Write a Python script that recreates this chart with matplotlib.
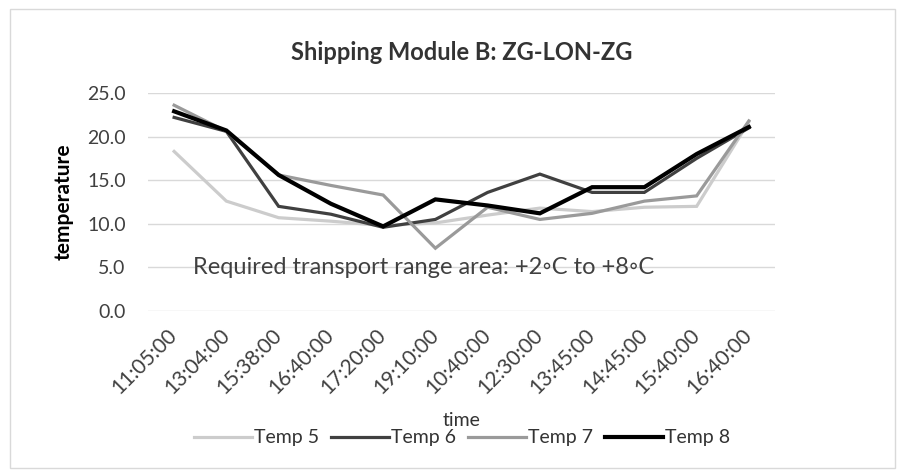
import numpy as np
import matplotlib.pyplot as plt
from matplotlib.patches import Rectangle

# logger readings per sensor
times = ["11:05:00", "13:04:00", "15:38:00", "16:40:00", "17:20:00", "19:10:00",
         "10:40:00", "12:30:00", "13:45:00", "14:45:00", "15:40:00", "16:40:00"]
temp5 = [18.3, 12.6, 10.7, 10.3, 9.8, 10.1, 11.0, 11.8, 11.4, 11.9, 12.0, 21.7]
temp6 = [22.2, 20.6, 12.0, 11.1, 9.6, 10.5, 13.6, 15.7, 13.6, 13.6, 17.5, 21.0]
temp7 = [23.6, 20.6, 15.6, 14.4, 13.3, 7.2, 11.9, 10.5, 11.2, 12.6, 13.2, 21.8]
temp8 = [22.9, 20.7, 15.6, 12.3, 9.7, 12.8, 12.1, 11.2, 14.2, 14.2, 18.0, 21.1]

series = [("Temp 5", temp5, "#cccccc", 2.3),
          ("Temp 6", temp6, "#404040", 2.3),
          ("Temp 7", temp7, "#9a9a9a", 2.3),
          ("Temp 8", temp8, "#000000", 3.0)]

plt.rcParams['font.family'] = ['Lato', 'DejaVu Sans']

fig = plt.figure(figsize=(9.05, 4.70), dpi=100)
fig.patches.append(Rectangle((0.011, 0.005), 0.978, 0.975, transform=fig.transFigure,
                             fill=False, edgecolor="#d9d9d9", linewidth=1))
ax = fig.add_axes([148 / 905, 1 - 311 / 470, (775 - 148) / 905, (311 - 93) / 470])

x = np.arange(len(times))
for name, vals, color, lw in series:
    ax.plot(x, vals, color=color, linewidth=lw, label=name, solid_joinstyle="miter")

ax.set_ylim(0, 25)
ax.set_xlim(-0.5, len(times) - 0.5)
ax.set_yticks(np.arange(0, 26, 5))
ax.set_yticklabels([f"{v:.1f}" for v in np.arange(0, 26, 5)], fontsize=14, color="#404040")
ax.set_xticks(x)
ax.set_xticklabels(times, rotation=45, ha="right", va="center", rotation_mode="anchor",
                   fontsize=15, color="#404040")
ax.tick_params(axis="y", length=0, pad=16)
ax.tick_params(axis="x", length=0, pad=15)
ax.grid(axis="y", color="#d9d9d9", linewidth=1)
ax.set_axisbelow(True)
for s in ax.spines.values():
    s.set_visible(False)

ax.set_title("Shipping Module B: ZG-LON-ZG", fontsize=17, fontweight="bold",
             color="#333333", pad=24)
ax.set_ylabel("temperature", fontsize=15, fontweight="bold", labelpad=10)
fig.text(462 / 905, 1 - 420 / 470, "time", ha="center", va="center", fontsize=14, color="#333333")

ax.text(45 / 627, 0.2, "Required transport range area: +2\u25e6C to +8\u25e6C",
        transform=ax.transAxes, ha="left", va="center", fontsize=17, color="#404040")

fig.legend(loc="center", bbox_to_anchor=(462 / 905, 1 - 438 / 470), ncol=4, frameon=False,
           fontsize=14, handlelength=3.0, handletextpad=0.1, columnspacing=0.6,
           labelcolor="#333333")

fig.savefig("out.png", dpi=100, facecolor="white")
